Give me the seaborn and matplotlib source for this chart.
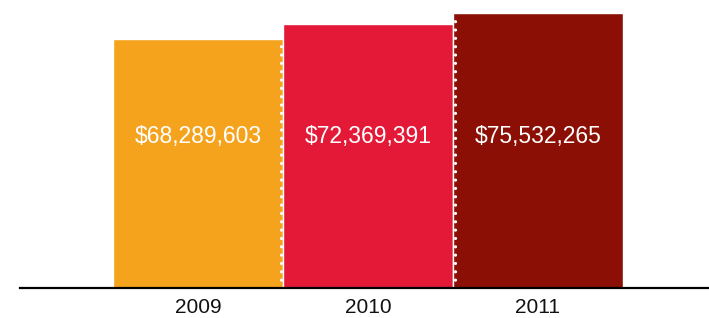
import matplotlib
matplotlib.use('Agg')
import matplotlib.pyplot as plt
import seaborn as sns

years = ['2009', '2010', '2011']
values = [68289603, 72369391, 75532265]
labels = ['$68,289,603', '$72,369,391', '$75,532,265']
colors = ['#F5A21D', '#E31937', '#8B0F04']

sns.set_style('white')
plt.rcParams['font.family'] = ['Liberation Sans', 'DejaVu Sans']

fig = plt.figure(figsize=(7.09, 3.18), dpi=100)
ax = fig.add_axes([20 / 709, 30 / 318, 689 / 709, 288 / 318])

sns.barplot(x=years, y=values, hue=years, palette=colors, width=1.0,
            saturation=1, legend=False, ax=ax)

# dotted separators between bars
ax.plot([0.49, 0.49], [0, values[0]], color='white', linewidth=2.3,
        linestyle=(0, (0.01, 2.6)), dash_capstyle='round')
ax.plot([1.51, 1.51], [0, values[2]], color='white', linewidth=2.3,
        linestyle=(0, (0.01, 2.6)), dash_capstyle='round')

for i, txt in enumerate(labels):
    ax.text(i, 41.5e6, txt, color='white', fontsize=16.5, ha='center', va='center')

ax.set_xlim(-1.047, 3.006)
ax.set_ylim(0, 79.0e6)
ax.set_yticks([])
ax.tick_params(axis='x', length=0, pad=7, labelsize=15, labelcolor='#111111')
for s in ['top', 'left', 'right']:
    ax.spines[s].set_visible(False)
ax.spines['bottom'].set_color('black')
ax.spines['bottom'].set_linewidth(1.6)
ax.spines['bottom'].set_zorder(5)

fig.savefig('out.png', dpi=100)
